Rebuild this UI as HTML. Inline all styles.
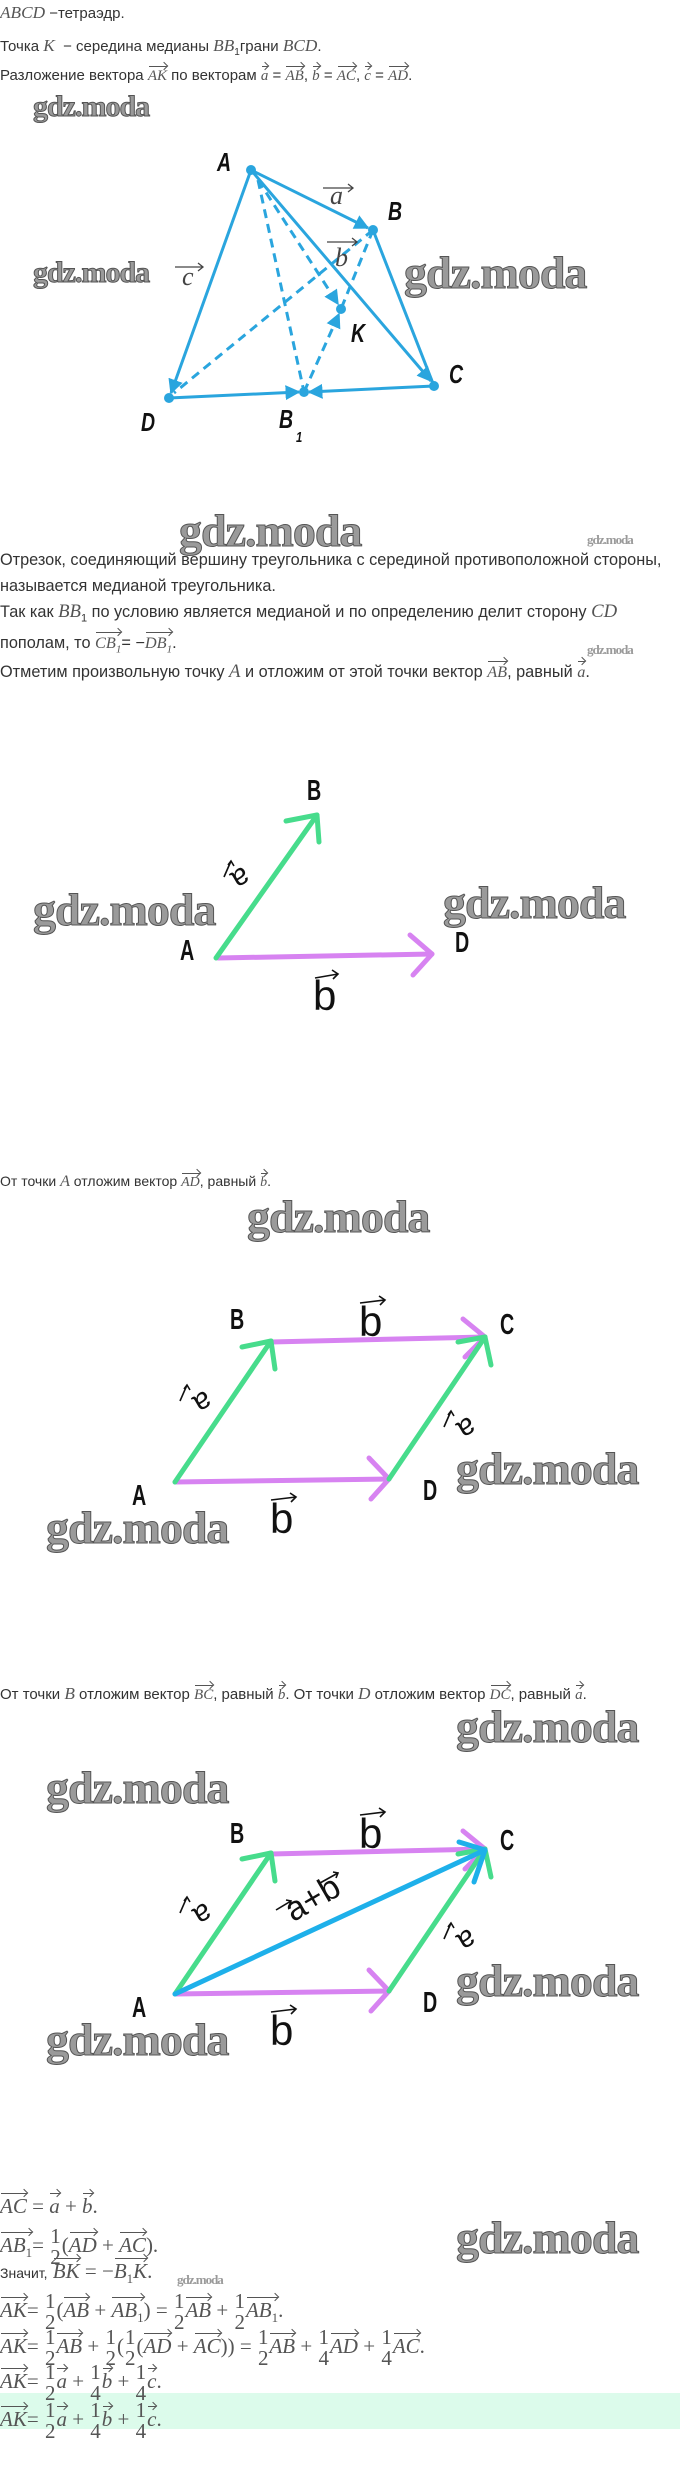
<!DOCTYPE html>
<html><head><meta charset="utf-8">
<style>
html,body{margin:0;padding:0;background:#fff;}
body{width:680px;height:2468px;position:relative;overflow:hidden;font-family:"Liberation Sans",sans-serif;color:#333;}
.t{position:absolute;left:0;white-space:nowrap;line-height:20px;}
.m{font-family:"Liberation Serif",serif;font-style:italic;color:#555;font-size:1.15em;}
.v{position:relative;display:inline-block;font-family:"Liberation Serif",serif;font-style:italic;color:#555;line-height:1;}
.v::after{content:"";position:absolute;left:1px;right:0;top:-3px;border-top:1px solid #555;}
.v::before{content:"";position:absolute;right:0;top:-6px;width:5px;height:5px;border-top:1px solid #555;border-right:1px solid #555;transform:rotate(45deg);}
.f{display:inline-block;vertical-align:middle;text-align:center;font-family:"Liberation Serif",serif;line-height:1;color:#555;margin:0 1px;}
.f span{display:block;}
.wm{position:absolute;font-family:"Liberation Serif",serif;font-weight:bold;color:#9a9a9a;-webkit-text-stroke:1px #555;white-space:nowrap;line-height:1;letter-spacing:-1px;}
.band{position:absolute;left:0;top:2393px;width:680px;height:36px;background:#dcfbeb;}
.mth{font-size:21px;font-family:"Liberation Serif",serif;color:#555;}
</style></head><body>

<div class="t" style="top:3px;font-size:15px"><span class="m">ABCD</span> −тетраэдр.</div>
<div class="t" style="top:36px;font-size:15px">Точка <span class="m">K</span> &nbsp;− середина медианы <span class="m">BB</span><sub style="font-size:10px">1</sub>грани <span class="m">BCD</span>.</div>
<div class="t" style="top:66px;font-size:15px">Разложение вектора <span class="v">AK</span> по векторам <span class="v">a</span> = <span class="v">AB</span>, <span class="v">b</span> = <span class="v">AC</span>, <span class="v">c</span> = <span class="v">AD</span>.</div>

<div class="wm" style="left:33px;top:92px;font-size:30px">gdz.moda</div>
<div class="wm" style="left:33px;top:258px;font-size:30px">gdz.moda</div>
<div class="wm" style="left:404px;top:250px;font-size:46px">gdz.moda</div>

<div class="wm" style="left:179px;top:508px;font-size:46px">gdz.moda</div>
<div class="wm" style="left:587px;top:533px;font-size:13px;-webkit-text-stroke:0">gdz.moda</div>
<div class="t" style="top:550px;font-size:16.3px">Отрезок, соединяющий вершину треугольника с серединой противоположной стороны,</div>
<div class="t" style="top:576px;font-size:16.3px">называется медианой треугольника.</div>
<div class="t" style="top:602px;font-size:16.3px">Так как <span class="m">BB</span><sub style="font-size:11px">1</sub> по условию является медианой и по определению делит сторону <span class="m">CD</span></div>
<div class="t" style="top:633px;font-size:16.3px">пополам, то <span class="v">CB<sub style="font-size:11px">1</sub></span>= −<span class="v">DB<sub style="font-size:11px">1</sub></span>.</div>
<div class="wm" style="left:587px;top:643px;font-size:13px;-webkit-text-stroke:0">gdz.moda</div>
<div class="t" style="top:662px;font-size:16.3px">Отметим произвольную точку <span class="m">A</span> и отложим от этой точки вектор <span class="v">AB</span>, равный <span class="v">a</span>.</div>

<div class="wm" style="left:33px;top:887px;font-size:46px">gdz.moda</div>
<div class="wm" style="left:443px;top:880px;font-size:46px">gdz.moda</div>

<div class="t" style="top:1171px;font-size:14px">От точки <span class="m">A</span> отложим вектор <span class="v">AD</span>, равный <span class="v">b</span>.</div>
<div class="wm" style="left:247px;top:1194px;font-size:46px">gdz.moda</div>
<div class="wm" style="left:456px;top:1446px;font-size:46px">gdz.moda</div>
<div class="wm" style="left:46px;top:1505px;font-size:46px">gdz.moda</div>

<div class="t" style="top:1684px;font-size:15px">От точки <span class="m">B</span> отложим вектор <span class="v">BC</span>, равный <span class="v">b</span>. От точки <span class="m">D</span> отложим вектор <span class="v">DC</span>, равный <span class="v">a</span>.</div>
<div class="wm" style="left:456px;top:1704px;font-size:46px">gdz.moda</div>
<div class="wm" style="left:46px;top:1765px;font-size:46px">gdz.moda</div>
<div class="wm" style="left:456px;top:1958px;font-size:46px">gdz.moda</div>
<div class="wm" style="left:46px;top:2017px;font-size:46px">gdz.moda</div>

<svg width="680" height="2468" style="position:absolute;left:0;top:0" xmlns="http://www.w3.org/2000/svg">
<defs>
<marker id="ar" viewBox="0 0 10 10" refX="9" refY="5" markerWidth="5" markerHeight="5" orient="auto"><path d="M0,0 L10,5 L0,10 z" fill="#2aa5de"/></marker>
</defs>
<!-- tetrahedron -->
<g stroke="#2aa5de" stroke-width="3" fill="none">
<line x1="251" y1="170" x2="368" y2="228" marker-end="url(#ar)"/>
<line x1="251" y1="170" x2="171" y2="393" marker-end="url(#ar)"/>
<line x1="251" y1="170" x2="431" y2="381" marker-end="url(#ar)"/>
<line x1="373" y1="230" x2="434" y2="386"/>
<line x1="169" y1="398" x2="299" y2="392" marker-end="url(#ar)"/>
<line x1="434" y1="386" x2="309" y2="392" marker-end="url(#ar)"/>
<g stroke-dasharray="9,6">
<line x1="258" y1="180" x2="304" y2="392"/>
<line x1="258" y1="180" x2="338" y2="304" marker-end="url(#ar)"/>
<line x1="373" y1="230" x2="174" y2="393"/>
<line x1="373" y1="230" x2="341" y2="309"/>
<line x1="304" y1="392" x2="339" y2="314" marker-end="url(#ar)"/>
</g>
</g>
<g fill="#2aa5de">
<circle cx="251" cy="170" r="5"/><circle cx="373" cy="230" r="5"/><circle cx="434" cy="386" r="5"/>
<circle cx="169" cy="398" r="5"/><circle cx="304" cy="392" r="5"/><circle cx="341" cy="309" r="5"/>
</g>
<g font-family="Liberation Sans,sans-serif" font-weight="bold" font-style="italic" font-size="26" fill="#111">
<text transform="translate(217,171) scale(0.75,1)">A</text>
<text transform="translate(388,220) scale(0.75,1)">B</text>
<text transform="translate(351,342) scale(0.75,1)">K</text>
<text transform="translate(449,383) scale(0.75,1)">C</text>
<text transform="translate(141,431) scale(0.75,1)">D</text>
<text transform="translate(279,428) scale(0.75,1)">B</text>
<text transform="translate(296,442) scale(0.75,1)" font-size="15">1</text>
</g>
<g font-family="Liberation Serif,serif" font-style="italic" font-size="26" fill="#444">
<text x="330" y="204">a</text><text x="335" y="266">b</text><text x="182" y="285">c</text>
</g>
<g stroke="#444" stroke-width="1.3" fill="none">
<line x1="323" y1="188" x2="353" y2="188"/><polyline points="348,184 353,188 348,192"/>
<line x1="327" y1="242" x2="357" y2="242"/><polyline points="352,238 357,242 352,246"/>
<line x1="175" y1="267" x2="203" y2="267"/><polyline points="198,263 203,267 198,271"/>
</g>

<!-- diagram 2 -->
<g stroke-width="5" fill="none" stroke-linecap="round" stroke-linejoin="round">
<line x1="218" y1="958" x2="432" y2="954" stroke="#d783f1"/>
<polyline points="410,935 432,954 413,975" stroke="#d783f1"/>
<line x1="216" y1="958" x2="317" y2="815" stroke="#47dc8c"/>
<polyline points="286,821 317,815 319,842" stroke="#47dc8c"/>
</g>

<!-- diagram 3 and 4 -->
<g id="par" stroke-width="5" fill="none" stroke-linecap="round" stroke-linejoin="round">
<line x1="175" y1="1482" x2="389" y2="1479" stroke="#d783f1"/>
<polyline points="369,1458 389,1479 371,1499" stroke="#d783f1"/>
<line x1="271" y1="1342" x2="485" y2="1337" stroke="#d783f1"/>
<polyline points="463,1319 485,1337 465,1357" stroke="#d783f1"/>
<line x1="175" y1="1482" x2="271" y2="1341" stroke="#47dc8c"/>
<polyline points="242,1347 271,1341 275,1369" stroke="#47dc8c"/>
<line x1="389" y1="1479" x2="485" y2="1337" stroke="#47dc8c"/>
<polyline points="458,1342 485,1337 491,1365" stroke="#47dc8c"/>
</g>
<g transform="translate(0,512)" stroke-width="5" fill="none" stroke-linecap="round" stroke-linejoin="round">
<line x1="175" y1="1482" x2="389" y2="1479" stroke="#d783f1"/>
<polyline points="369,1458 389,1479 371,1499" stroke="#d783f1"/>
<line x1="271" y1="1342" x2="485" y2="1337" stroke="#d783f1"/>
<polyline points="463,1319 485,1337 465,1357" stroke="#d783f1"/>
<line x1="175" y1="1482" x2="271" y2="1341" stroke="#47dc8c"/>
<polyline points="242,1347 271,1341 275,1369" stroke="#47dc8c"/>
<line x1="389" y1="1479" x2="485" y2="1337" stroke="#47dc8c"/>
<polyline points="458,1342 485,1337 491,1365" stroke="#47dc8c"/>
<line x1="175" y1="1482" x2="485" y2="1338" stroke="#1eb0ea"/>
<polyline points="459,1330 485,1338 474,1370" stroke="#1eb0ea"/>
</g>

<g font-family="Liberation Sans,sans-serif" font-weight="bold" font-size="29" fill="#111">
<text transform="translate(307,800) scale(0.68,1)">B</text>
<text transform="translate(180,960) scale(0.68,1)">A</text>
<text transform="translate(455,952) scale(0.68,1)">D</text>
<text transform="translate(230,1329) scale(0.68,1)">B</text>
<text transform="translate(500,1334) scale(0.68,1)">C</text>
<text transform="translate(423,1500) scale(0.68,1)">D</text>
<text transform="translate(132,1505) scale(0.68,1)">A</text>
<text transform="translate(230,1843) scale(0.68,1)">B</text>
<text transform="translate(500,1850) scale(0.68,1)">C</text>
<text transform="translate(423,2012) scale(0.68,1)">D</text>
<text transform="translate(132,2017) scale(0.68,1)">A</text>
</g>
<g font-family="Liberation Sans,sans-serif" font-size="42" fill="#111">
<text x="313" y="1010">b</text>
<text x="359" y="1336">b</text><text x="270" y="1533">b</text>
<text x="359" y="1848">b</text><text x="270" y="2045">b</text>
</g>
<g stroke="#111" stroke-width="1.6" fill="none">
<line x1="315" y1="978" x2="338" y2="974"/><polyline points="332,970 338,974 333,979"/>
<line x1="360" y1="1303" x2="385" y2="1300"/><polyline points="379,1296 385,1300 380,1305"/>
<line x1="271" y1="1500" x2="296" y2="1497"/><polyline points="290,1493 296,1497 291,1502"/>
<line x1="360" y1="1815" x2="385" y2="1812"/><polyline points="379,1808 385,1812 380,1817"/>
<line x1="271" y1="2012" x2="296" y2="2009"/><polyline points="290,2005 296,2009 291,2014"/>
</g>
<!-- rotated a labels -->
<g font-family="Liberation Sans,sans-serif" font-size="30" fill="#111">
<text transform="translate(236,870) rotate(150)" text-anchor="middle">a</text>
<text transform="translate(198,1394) rotate(150)" text-anchor="middle">a</text>
<text transform="translate(462,1420) rotate(150)" text-anchor="middle">a</text>
<text transform="translate(198,1906) rotate(150)" text-anchor="middle">a</text>
<text transform="translate(462,1932) rotate(150)" text-anchor="middle">a</text>
<text transform="translate(318,1908) rotate(-30)" text-anchor="middle" font-size="34">a+b</text>
</g>
<g stroke="#111" stroke-width="1.6" fill="none">
<line x1="224" y1="877" x2="231" y2="861"/><polyline points="228,865 231,861 234,866"/>
<line x1="180" y1="1401" x2="187" y2="1385"/><polyline points="184,1389 187,1385 190,1390"/>
<line x1="444" y1="1427" x2="451" y2="1411"/><polyline points="448,1415 451,1411 454,1416"/>
<line x1="180" y1="1913" x2="187" y2="1897"/><polyline points="184,1901 187,1897 190,1902"/>
<line x1="444" y1="1939" x2="451" y2="1923"/><polyline points="448,1927 451,1923 454,1928"/>
<line x1="276" y1="1910" x2="291" y2="1901"/><polyline points="286,1900 291,1901 289,1906"/>
<line x1="320" y1="1883" x2="338" y2="1873"/><polyline points="333,1872 338,1873 336,1878"/>
</g>
</svg>

<div class="band"></div>
<div class="wm" style="left:456px;top:2215px;font-size:46px">gdz.moda</div>
<div class="wm" style="left:177px;top:2273px;font-size:13px;-webkit-text-stroke:0">gdz.moda</div>

<div class="t mth" style="top:2195px;line-height:22px"><span class="v">AC</span> = <span class="v">a</span> + <span class="v">b</span>.</div>
<div class="t mth" style="top:2226px;line-height:22px"><span class="v">AB<sub style="font-size:13px;font-style:normal">1</sub></span>= <span class="f"><span>1</span><span>2</span></span>(<span class="v">AD</span> + <span class="v">AC</span>).</div>
<div class="t mth" style="top:2260px;line-height:22px"><span style="font-family:'Liberation Sans',sans-serif;font-size:14px;color:#333">Значит,</span> <span class="v">BK</span> = −<span class="v">B<sub style="font-size:13px;font-style:normal">1</sub>K</span>.</div>
<div class="t mth" style="top:2291px;line-height:22px"><span class="v">AK</span>= <span class="f"><span>1</span><span>2</span></span>(<span class="v">AB</span> + <span class="v">AB<sub style="font-size:13px;font-style:normal">1</sub></span>) = <span class="f"><span>1</span><span>2</span></span><span class="v">AB</span> + <span class="f"><span>1</span><span>2</span></span><span class="v">AB<sub style="font-size:13px;font-style:normal">1</sub></span>.</div>
<div class="t mth" style="top:2327px;line-height:22px"><span class="v">AK</span>= <span class="f"><span>1</span><span>2</span></span><span class="v">AB</span> + <span class="f"><span>1</span><span>2</span></span>(<span class="f"><span>1</span><span>2</span></span>(<span class="v">AD</span> + <span class="v">AC</span>)) = <span class="f"><span>1</span><span>2</span></span><span class="v">AB</span> + <span class="f"><span>1</span><span>4</span></span><span class="v">AD</span> + <span class="f"><span>1</span><span>4</span></span><span class="v">AC</span>.</div>
<div class="t mth" style="top:2362px;line-height:22px"><span class="v">AK</span>= <span class="f"><span>1</span><span>2</span></span><span class="v">a</span> + <span class="f"><span>1</span><span>4</span></span><span class="v">b</span> + <span class="f"><span>1</span><span>4</span></span><span class="v">c</span>.</div>
<div class="t mth" style="top:2400px;line-height:22px"><span class="v">AK</span>= <span class="f"><span>1</span><span>2</span></span><span class="v">a</span> + <span class="f"><span>1</span><span>4</span></span><span class="v">b</span> + <span class="f"><span>1</span><span>4</span></span><span class="v">c</span>.</div>

</body></html>
